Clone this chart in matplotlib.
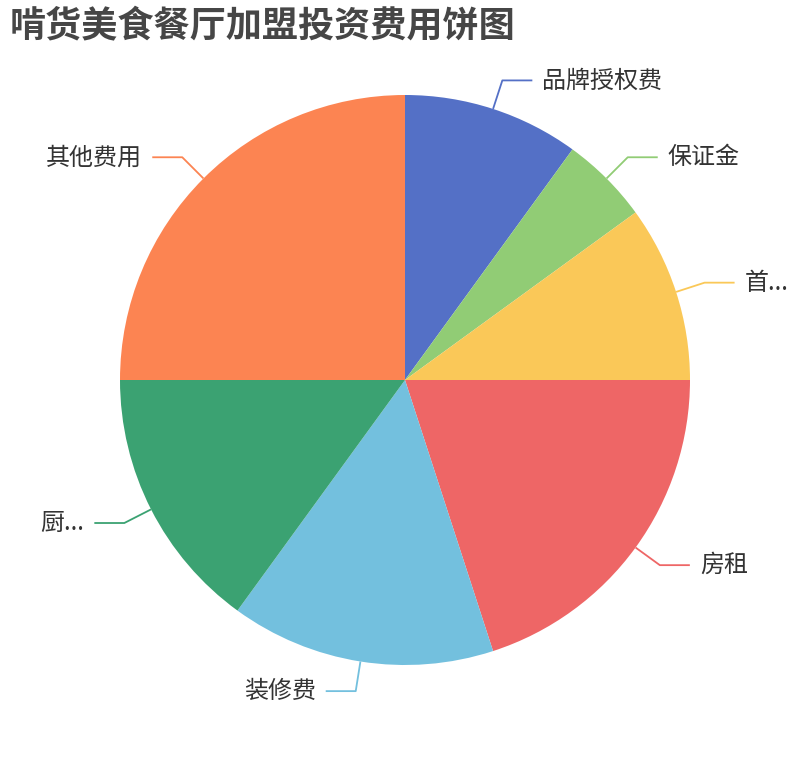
import numpy as np
import matplotlib
matplotlib.use('Agg')
import matplotlib.pyplot as plt

plt.rcParams['font.family'] = ['Noto Sans CJK SC', 'DejaVu Sans']

# data (share of total investment, %)
categories = ['品牌授权费', '保证金', '首...', '房租', '装修费', '厨...', '其他费用']
values = [10, 5, 10, 20, 15, 15, 25]
colors = ['#5470c6', '#91cc75', '#fac858', '#ee6666', '#73c0de', '#3ba272', '#fc8452']
title = '啃货美食餐厅加盟投资费用饼图'

W, H = 810, 760
fig = plt.figure(figsize=(W / 100, H / 100), dpi=100)
ax = fig.add_axes([0, 0, 1, 1])

cx, cy, r = 405, 380, 285
wedges, _ = ax.pie(values, colors=colors, startangle=90, counterclock=False,
                   center=(cx, cy), radius=r, frame=True,
                   wedgeprops=dict(linewidth=0))
ax.set_xlim(0, W)
ax.set_ylim(0, H)
ax.set_aspect('equal')
ax.axis('off')

# label lines: radial segment then horizontal segment, like echarts
len1, len2, gap = 30, 30, 10
for w, lab, col in zip(wedges, categories, colors):
    mid = np.deg2rad((w.theta1 + w.theta2) / 2)
    c, s = np.cos(mid), np.sin(mid)
    x0, y0 = cx + r * c, cy + r * s
    x1, y1 = cx + (r + len1) * c, cy + (r + len1) * s
    side = 1 if c >= 0 else -1
    x2 = x1 + side * len2
    ax.plot([x0, x1, x2], [y0, y1, y1], color=col, lw=1.3, solid_capstyle='butt')
    ax.text(x2 + side * gap, y1, lab, fontsize=17.3, color='#333333',
            ha='left' if side > 0 else 'right', va='center')

fig.text(10 / W, 1 - 27 / H, title, fontsize=26, fontweight='bold',
         color='#464646', ha='left', va='center')

fig.savefig('out.png', dpi=100)
